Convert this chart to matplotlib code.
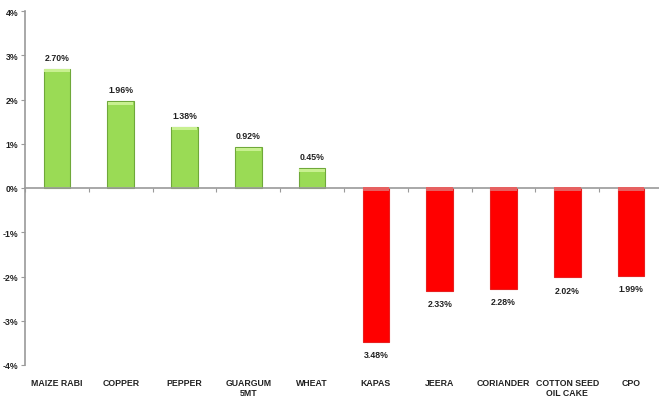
import matplotlib.pyplot as plt
from matplotlib import font_manager
from matplotlib.ticker import FuncFormatter

categories = ['MAIZE RABI', 'COPPER', 'PEPPER', 'GUARGUM\n5MT', 'WHEAT',
              'KAPAS', 'JEERA', 'CORIANDER', 'COTTON SEED\nOIL CAKE', 'CPO']
values = [2.70, 1.96, 1.38, 0.92, 0.45, -3.48, -2.33, -2.28, -2.02, -1.99]

names = {f.name for f in font_manager.fontManager.ttflist}
family = 'Liberation Sans Narrow' if 'Liberation Sans Narrow' in names else 'Liberation Sans'
plt.rcParams['font.family'] = [family, 'DejaVu Sans']
fs = 7 if family == 'Liberation Sans Narrow' else 6.3

fig = plt.figure(figsize=(6.59, 4.02), dpi=100)
ax = fig.add_axes([25 / 659, 36 / 402, 638 / 659, 354 / 402])

x = list(range(len(categories)))
pos_col = '#9ADB55'
neg_col = '#FF0000'
colors = [pos_col if v >= 0 else neg_col for v in values]
edges = ['#6FA83A' if v >= 0 else '#E82020' for v in values]
ax.bar(x, values, width=0.42, color=colors, edgecolor=edges, linewidth=0.8, zorder=2)

# top highlight strip on each bar
pos_x = [xi for xi, v in zip(x, values) if v >= 0]
pos_v = [v for v in values if v >= 0]
neg_x = [xi for xi, v in zip(x, values) if v < 0]
ax.bar(pos_x, [0.07] * len(pos_x), bottom=[v - 0.08 for v in pos_v],
       width=0.40, color='#C8F090', linewidth=0, zorder=3)
ax.bar(neg_x, [0.09] * len(neg_x), bottom=[-0.06] * len(neg_x),
       width=0.42, color='#E66060', linewidth=0, zorder=5)

for xi, v in zip(x, values):
    if v >= 0:
        ax.annotate(f'{v:.2f}%', (xi, v), xytext=(0, 5), textcoords='offset points',
                    ha='center', va='bottom', fontsize=fs, fontweight='bold', color='#222222')
    else:
        ax.annotate(f'{abs(v):.2f}%', (xi, v), xytext=(0, -6), textcoords='offset points',
                    ha='center', va='top', fontsize=fs, fontweight='bold', color='#222222')

for xi, c in zip(x, categories):
    ax.text(xi, -0.036, c, transform=ax.get_xaxis_transform(), ha='center', va='top',
            fontsize=fs, fontweight='bold', color='#222222', linespacing=1.25)

ax.set_xlim(-0.5, len(categories) - 0.5)
ax.set_ylim(-4, 4)
ax.set_yticks(range(-4, 5))
ax.yaxis.set_major_formatter(FuncFormatter(lambda v, p: f'{int(v)}%'))
ax.set_xticks([i + 0.5 for i in range(len(categories) - 1)] + [-0.5])
ax.set_xticklabels([])

ax.spines['top'].set_visible(False)
ax.spines['right'].set_visible(False)
ax.spines['bottom'].set_position(('data', 0))
for s in ['left', 'bottom']:
    ax.spines[s].set_color('#9A9A9A')
    ax.spines[s].set_linewidth(1.2)
ax.spines['bottom'].set_zorder(4)
ax.tick_params(axis='y', length=3, color='#9A9A9A', labelsize=fs, pad=2)
ax.tick_params(axis='x', length=3, color='#9A9A9A', direction='out')
for lab in ax.get_yticklabels():
    lab.set_fontweight('bold')
    lab.set_color('#222222')

fig.savefig('out.png', dpi=100)
